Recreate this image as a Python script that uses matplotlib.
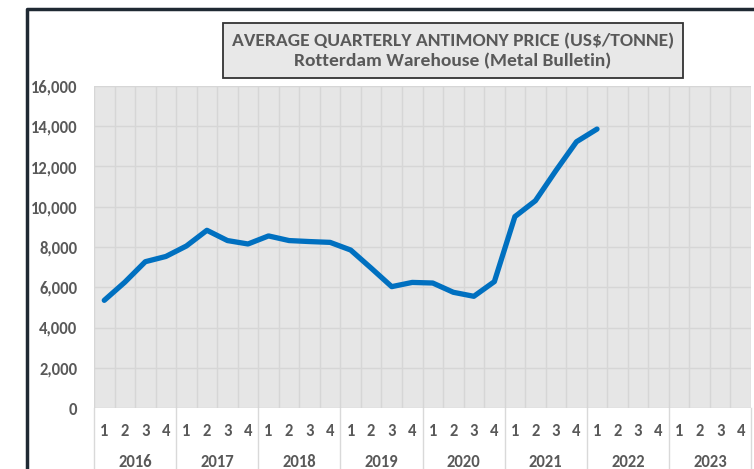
import matplotlib.pyplot as plt
import matplotlib.transforms as mtransforms
import numpy as np
from matplotlib.lines import Line2D
from matplotlib.patches import Rectangle

years = ["2016", "2017", "2018", "2019", "2020", "2021", "2022", "2023"]
quarters = ["1", "2", "3", "4"]
# US$/tonne, one value per quarter from 2016 Q1; None = no data yet
prices = [
    5350, 6250, 7270, 7530,
    8050, 8830, 8320, 8150,
    8550, 8320, 8270, 8230,
    7850, 6950, 6030, 6240,
    6210, 5750, 5550, 6280,
    9510, 10300, 11800, 13230,
    13860, None, None, None,
    None, None, None, None,
]
title_lines = ["AVERAGE QUARTERLY ANTIMONY PRICE (US$/TONNE)",
               "Rotterdam Warehouse (Metal Bulletin)"]

text_grey = "#595959"
plt.rcParams["font.family"] = ["Carlito", "DejaVu Sans"]

W, H = 754, 469
fig = plt.figure(figsize=(W / 100, H / 100), dpi=100)
ax = fig.add_axes([94 / W, (H - 408) / H, 657 / W, 322 / H])

n = len(years) * len(quarters)
x = np.arange(n) + 0.5
y = np.array([np.nan if v is None else v for v in prices], dtype=float)

ax.set_facecolor("#e6e6e6")
ax.set_xlim(0, n)
ax.set_ylim(0, 16000)
ax.set_yticks(range(0, 16001, 2000))
ax.set_yticklabels([f"{v:,}" for v in range(0, 16001, 2000)],
                   fontsize=12, fontweight="bold", color=text_grey)
ax.tick_params(axis="y", length=0, pad=12)
ax.set_xticks([])
for v in range(0, 16001, 2000):
    ax.axhline(v, color="#d6d6d6", lw=1, zorder=1)
for i in range(n + 1):
    ax.axvline(i, color="#d6d6d6", lw=1, zorder=1)
for s in ax.spines.values():
    s.set_visible(False)

ax.plot(x, y, color="#0070c0", lw=3.8, solid_capstyle="round",
        solid_joinstyle="round", zorder=3)

# category labels under the plot
trans = mtransforms.blended_transform_factory(ax.transData, fig.transFigure)
for i in range(n):
    ax.text(x[i], 1 - 431 / H, quarters[i % 4], transform=trans, ha="center",
            va="center", fontsize=12, fontweight="bold", color=text_grey)
for j, yr in enumerate(years):
    ax.text(j * 4 + 2, 1 - 462 / H, yr, transform=trans, ha="center",
            va="center", fontsize=12, fontweight="bold", color=text_grey)
for j in range(len(years) + 1):
    fig.add_artist(Line2D([j * 4, j * 4], [0, (H - 408) / H], transform=trans,
                          color="#d9d9d9", lw=1))

# title box
fig.add_artist(Rectangle((223 / W, 1 - 78 / H), 460 / W, 55 / H,
                         transform=fig.transFigure, fc="#e8e8e8", ec="#333333", lw=1.3))
fig.text(453 / W, 1 - 51 / H, "\n".join(title_lines), ha="center", va="center",
         fontsize=14, fontweight="bold", color=text_grey, linespacing=1.3)

# frame of the chart
fig.add_artist(Line2D([27 / W, 27 / W, 1], [0, 1 - 9 / H, 1 - 9 / H],
                      transform=fig.transFigure, color="#1f2933", lw=2.5))

fig.savefig("out.png", dpi=100)
